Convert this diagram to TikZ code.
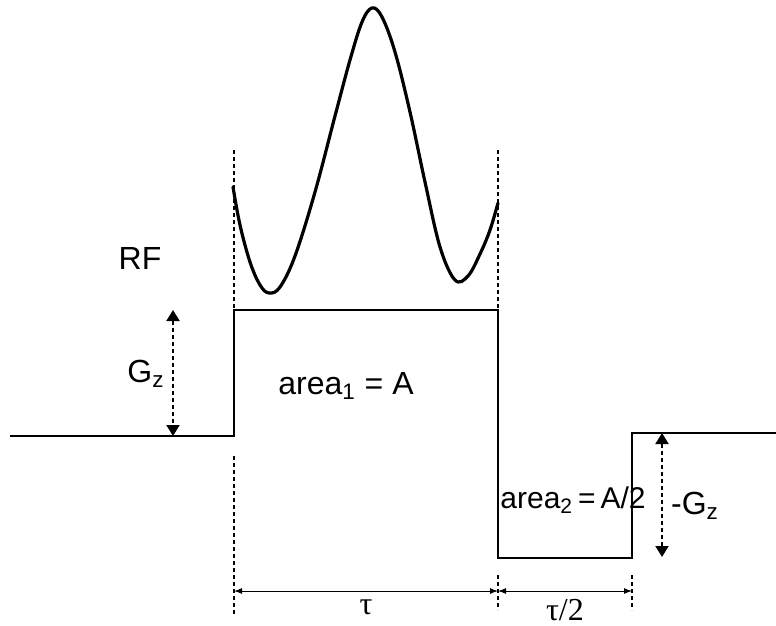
\documentclass[tikz,border=0pt]{standalone}
\usepackage{fontspec}
\setmainfont{Liberation Sans}
\newfontfamily\taufont{Liberation Serif}
\usetikzlibrary{arrows.meta, positioning}
\tikzset{
  gradline/.style={line width=1.3pt, line join=miter},
  rfline/.style={line width=1.6pt, line cap=round},
  guideline/.style={line width=0.8pt, dash pattern=on 2.2pt off 1.3pt},
  dimarr/.style={{Latex[length=4pt,width=3pt]}-{Latex[length=4pt,width=3pt]}, line width=0.5pt},
  amparr/.style={{Triangle[length=5.5pt,width=6.5pt]}-{Triangle[length=5.5pt,width=6.5pt]}, line width=1pt, dash pattern=on 2.2pt off 1.3pt},
  lbl/.style={font=\fontsize{16}{19}\selectfont, inner sep=0pt},
}

\begin{document}
\begin{tikzpicture}[x=0.5pt, y=-0.5pt]
\useasboundingbox (0,0) rectangle (776,626);

% gradient waveform corners
\coordinate (g0) at (10,436);
\coordinate (g1) at (234,436);
\coordinate (g2) at (234,310);
\coordinate (g3) at (498,310);
\coordinate (g4) at (498,558);
\coordinate (g5) at (632,558);
\coordinate (g6) at (632,433);
\coordinate (g7) at (776,433);
\draw[gradline] (g0) -- (g1) -- (g2) -- (g3) -- (g4) -- (g5) -- (g6) -- (g7);

% RF pulse
\draw[rfline] plot[smooth, tension=0.6] coordinates {
  (233,187) (240,225) (250,262) (260,285) (269,293) (280,287) (295,256)
  (315,192) (335,116) (350,60) (362,22) (372,8) (382,17) (395,52)
  (410,112) (425,182) (440,247) (455,280) (468,276) (480,254) (490,230) (498,203)};

% guides
\coordinate (t1a) at (234,150);
\coordinate (t2a) at (498,150);
\coordinate (t1b) at (234,456);
\coordinate (t1c) at (234,615);
\coordinate (t2b) at (498,575);
\coordinate (t2c) at (498,610);
\coordinate (t3b) at (632,575);
\coordinate (t3c) at (632,610);
\draw[guideline] (t1a) -- (g2);
\draw[guideline] (t2a) -- (g3);
\draw[guideline] (t1b) -- (t1c);
\draw[guideline] (t2b) -- (t2c);
\draw[guideline] (t3b) -- (t3c);

% timing
\coordinate (d1) at (234,591);
\coordinate (d2) at (498,591);
\coordinate (d3) at (632,591);
\draw[dimarr] (d1) -- (d2) node[lbl, midway, below=4pt] {\taufont τ};
\draw[dimarr] (d2) -- (d3) node[lbl, midway, below=4pt] {\taufont τ/2};

% amplitudes
\coordinate (a1) at (173,310);
\coordinate (a2) at (173,436);
\coordinate (b1) at (662,433);
\coordinate (b2) at (662,557);
\draw[amparr] (a1) -- (a2);
\draw[amparr] (b1) -- (b2);

\node[lbl] (rf) at (140,258) {RF};
\node[lbl] (gz) at (146,374) {G\textsubscript{z}};
\node[lbl] (mgz) at (695,506) {-G\textsubscript{z}};
\node[lbl] (ar1) at (346,386) {area\textsubscript{1} = A};
\node[lbl, font=\fontsize{15}{18}\selectfont, anchor=west] (ar2) at (500,500) {area\textsubscript{2}\,=\,A/2};
\end{tikzpicture}
\end{document}
